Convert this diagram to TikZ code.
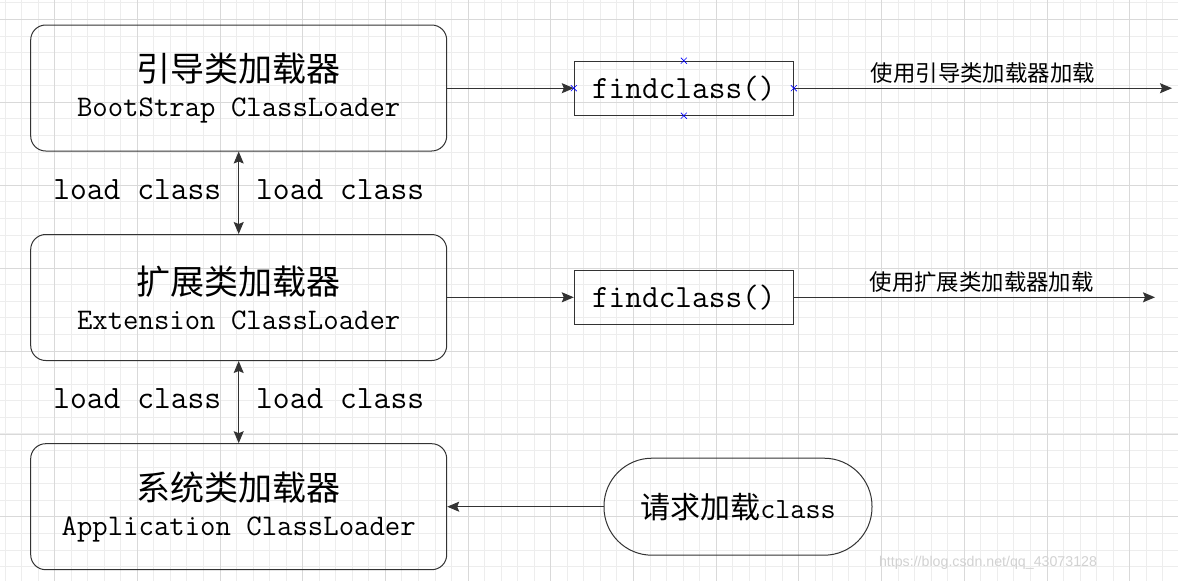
\documentclass[tikz,border=0pt]{standalone}
\usepackage{fontspec}
\newfontfamily\cjk{Noto Sans CJK SC}
\newfontfamily\wmfont{Liberation Sans}
\usetikzlibrary{arrows.meta}

\definecolor{edge}{HTML}{333333}
\definecolor{minorgrid}{HTML}{EDEDED}
\definecolor{majorgrid}{HTML}{D9D9D9}

\begin{document}
\begin{tikzpicture}[x = 1pt, y = -1pt, > = {Stealth[length = 12pt, width = 10pt, inset = 2pt]},
	loader/.style = {draw = edge, line width = 1pt, rounded corners = 15pt, minimum width = 416pt, minimum height = 126pt, align = center, inner sep = 0pt, font = \fontsize{29.9}{35}\selectfont},
	finder/.style = {draw = edge, line width = 1pt, minimum width = 219pt, minimum height = 54pt, inner sep = 0pt, font = \fontsize{32.4}{34}\selectfont\ttfamily},
	link/.style = {draw = edge, line width = 1pt},
	loadnote/.style = {font = \fontsize{32.6}{34}\selectfont\ttfamily, inner sep = 17pt, yshift = 3pt},
	usenote/.style = {font = \fontsize{22.4}{26}\selectfont\cjk, inner sep = 4pt}]

	% Definitions

	\def\W{1178}	% Picture width
	\def\H{581}		% Picture height

	\useasboundingbox (0, 0) rectangle (\W, \H);

	% Grid

	\begin{scope}
		\clip (0, 0) rectangle (\W, \H);
		\fill [white] (0, 0) rectangle (\W, \H);
		\foreach \i in {0, ..., 71} \draw [minorgrid, line width = 0.8pt] ({4.9 + \i * 16.54}, 0) -- ++(0, \H);
		\foreach \i in {0, ..., 35} \draw [minorgrid, line width = 0.8pt] (0, {2.8 + \i * 16.58}) -- ++(\W, 0);
		\foreach \i in {0, ..., 13} \draw [majorgrid, line width = 0.8pt] ({54.5 + \i * 82.7}, 0) -- ++(0, \H);
		\foreach \i in {-1, ..., 5} \draw [majorgrid, line width = 0.8pt] (0, {102.3 + \i * 82.9}) -- ++(\W, 0);
	\end{scope}

	% Class loaders

	\node [loader] (boot) at (238.7, 88) {{\cjk\fontsize{34}{34}\selectfont 引导类加载器}\\\ttfamily BootStrap ClassLoader};
	\node [loader] (ext) at (238.7, 297.5) {{\cjk\fontsize{34}{34}\selectfont 扩展类加载器}\\\ttfamily Extension ClassLoader};
	\node [loader] (app) at (238.7, 506.7) {{\cjk\fontsize{34}{34}\selectfont 系统类加载器}\\\ttfamily Application ClassLoader};

	% Delegation between loaders

	\draw [link, <->] (boot) -- node [loadnote, left] (up1) {load class} node [loadnote, right] (down1) {load class} (ext);
	\draw [link, <->] (ext) -- node [loadnote, left] (up2) {load class} node [loadnote, right] (down2) {load class} (app);

	% findclass() calls

	\node [finder] (find1) at (683.8, 88.2) {findclass()};
	\node [finder] (find2) at (683.8, 297.3) {findclass()};

	\coordinate (out1) at (1172, 88.2);
	\coordinate (out2) at (1155, 297.3);

	\draw [link, ->] (boot.east |- find1) -- (find1);
	\draw [link, ->] (find1) -- node [usenote, above] (use1) {使用引导类加载器加载} (out1);
	\draw [link, ->] (ext.east |- find2) -- (find2);
	\draw [link, ->] (find2) -- node [usenote, above, pos = 0.52] (use2) {使用扩展类加载器加载} (out2);

	% Connection marks on the first findclass()

	\foreach \a in {north, south, east, west}
		\draw [blue, line width = 0.6pt] (find1.\a) +(-3, -3) -- +(3, 3) +(-3, 3) -- +(3, -3);

	% Request

	\node [draw = edge, line width = 1pt, rounded corners = 48pt, minimum width = 268pt, minimum height = 97pt, inner sep = 0pt] (req) at (738, 506.7) {{\cjk\fontsize{30}{30}\selectfont 请求加载}{\ttfamily\fontsize{29.3}{30}\selectfont class}};
	\draw [link, ->] (req) -- (app.east |- req);

	% Watermark

	\node [gray!35, font = \fontsize{14.2}{16}\selectfont\wmfont] (mark) at (988, 563) {https://blog.csdn.net/qq\_43073128};

\end{tikzpicture}
\end{document}
